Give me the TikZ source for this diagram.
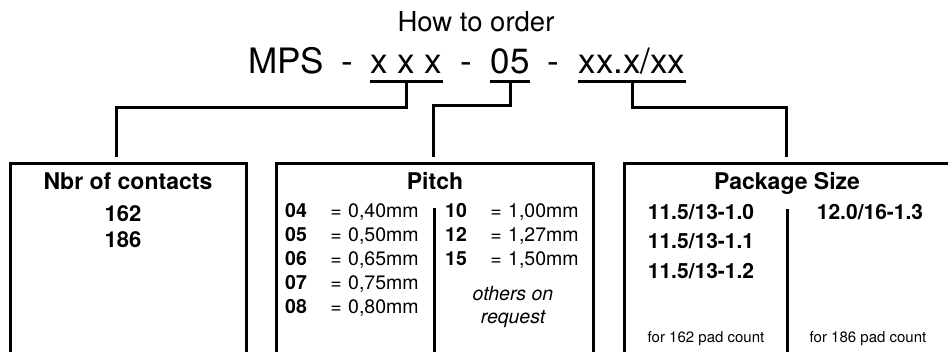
\documentclass[tikz,border=0pt]{standalone}
\usepackage{fontspec}
\setmainfont{TeX Gyre Heros}
\usetikzlibrary{positioning, calc}
\tikzset{
  thickline/.style={line width=3pt}, % boxes, links and underlines
  frame/.style={draw, thickline, rectangle, anchor=north west, outer sep=0pt, minimum height=230pt},
  link/.style={thickline, line join=miter},
  txt/.style={anchor=base, inner sep=0pt},
  title/.style={txt, font=\fontsize{27.5}{32}\selectfont},
  code/.style={txt, font=\fontsize{35}{40}\selectfont},
  head/.style={txt, font=\bfseries\fontsize{23}{26}\selectfont},
  num/.style={txt, font=\bfseries\fontsize{21}{24}\selectfont},
  pcode/.style={txt, anchor=base west, font=\bfseries\fontsize{19.5}{23}\selectfont},
  pval/.style={txt, anchor=base west, font=\fontsize{19.5}{23}\selectfont},
  peq/.style={txt, font=\fontsize{19.5}{23}\selectfont},
  note/.style={txt, font=\itshape\fontsize{19.5}{23}\selectfont},
  small/.style={txt, font=\fontsize{15}{18}\selectfont},
}

\begin{document}
\begin{tikzpicture}[x=1pt, y=-1pt]
  \clip (0,0) rectangle (948,351);

  % Title and order code
  \node[title] (title) at (476,31.5) {How to order};
  \node[code] (mps) at (286,73) {MPS};
  \node[code] (dashA) at (347,73) {-};
  \node[code] (xxx) at (406.5,73) {x x x};
  \node[code] (dashB) at (466,73) {-};
  \node[code] (pitchcode) at (510,73) {05};
  \node[code] (dashC) at (553,73) {-};
  \node[code] (sizecode) at (632,73) {xx.x/xx};
  \foreach \n in {xxx, pitchcode, sizecode}
    \draw[thickline] ([yshift=-8pt]\n.base west) -- ([yshift=-8pt]\n.base east);

  % Boxes
  \node[frame, minimum width=235.5pt] (contacts) at (10.5,163) {};
  \node[frame, minimum width=317pt] (pitch) at (276.5,163) {};
  \node[frame, minimum width=326pt] (size) at (624,163) {};

  % Links
  \draw[link] ([yshift=-8pt]xxx.base) -- ++(0,26) -| ([xshift=-11.5pt,yshift=6pt]contacts.north);
  \draw[link] ([yshift=-8pt]pitchcode.base) -- ++(0,24) -| ([xshift=-1.5pt,yshift=6pt]pitch.north);
  \draw[link] ([yshift=-8pt]sizecode.base) -- ++(0,26) -| ([xshift=-1pt,yshift=6pt]size.north);

  % Nbr of contacts
  \node[head] (contactshead) at (128,189) {Nbr of contacts};
  \node[num, font=\bfseries\fontsize{22}{24}\selectfont] (c162) at (123,221) {162};
  \node[num, font=\bfseries\fontsize{22}{24}\selectfont] (c186) at (123,247) {186};

  % Pitch
  \node[head] (pitchhead) at (435,189) {Pitch};
  \draw[thickline] (434,208) -- (434,360);
  \foreach \c/\v [count=\i from 0] in {04/{0,40mm}, 05/{0,50mm}, 06/{0,65mm}, 07/{0,75mm}, 08/{0,80mm}} {
    \node[pcode] (lcode\i) at (285,{217+24*\i}) {\c};
    \node[peq] (leq\i) at (336,{217+24*\i}) {=};
    \node[pval] (lval\i) at (348,{217+24*\i}) {\v};
  }
  \foreach \c/\v [count=\i from 0] in {10/{1,00mm}, 12/{1,27mm}, 15/{1,50mm}} {
    \node[pcode] (rcode\i) at (445,{217+24*\i}) {\c};
    \node[peq] (req\i) at (496,{217+24*\i}) {=};
    \node[pval] (rval\i) at (508,{217+24*\i}) {\v};
  }
  \node[note] (others) at (513,300) {others on};
  \node[note] (request) at (513,323) {request};

  % Package Size
  \node[head] (sizehead) at (787,189) {Package Size};
  \draw[thickline] (787,209) -- (787,360);
  \node[num] (s10) at (701,219) {11.5/13-1.0};
  \node[num] (s11) at (701,248.5) {11.5/13-1.1};
  \node[num] (s12) at (701,278) {11.5/13-1.2};
  \node[num] (s13) at (870,219) {12.0/16-1.3};
  \node[small] (pad162) at (706,342) {for 162 pad count};
  \node[small] (pad186) at (868,342) {for 186 pad count};
\end{tikzpicture}
\end{document}
